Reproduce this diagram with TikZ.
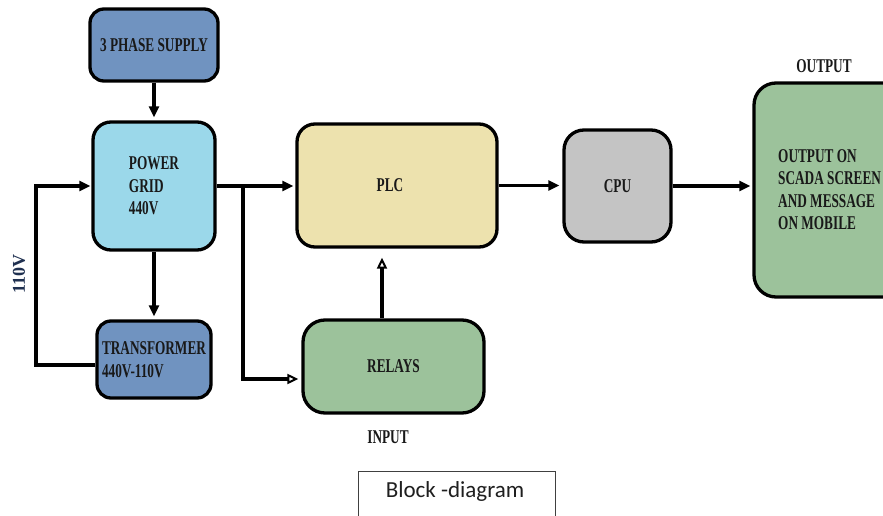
\documentclass[tikz,border=0pt]{standalone}
\usepackage{fontspec}
\setmainfont{Liberation Serif}
\newfontfamily\boxfont[FakeStretch=0.68]{Liberation Serif}
\newfontfamily\captionfont{Carlito}
\usetikzlibrary{arrows.meta}

\definecolor{steelbox}{HTML}{7093C0}
\definecolor{gridbox}{HTML}{9BD8EA}
\definecolor{plcbox}{HTML}{EDE2AE}
\definecolor{cpubox}{HTML}{C4C4C4}
\definecolor{greenbox}{HTML}{9CC29B}
\definecolor{navytext}{HTML}{1F3050}

\begin{document}
\begin{tikzpicture}[x=1pt,y=-1pt,
  blk/.style={draw=black, line width=3.3pt, inner sep=0pt, align=left,
    text=black!90, font=\boxfont\bfseries\fontsize{19.5}{22.5}\selectfont},
  lbl/.style={inner sep=0pt, text=black!90, font=\boxfont\bfseries\fontsize{19.5}{22.5}\selectfont},
  conn/.style={line width=3.2pt, -{Triangle[length=11pt,width=10pt]}},
  openconn/.style={line width=3.2pt, -{Triangle[length=11pt,width=10pt,fill=white,line width=2pt]}},
  wire/.style={line width=3.2pt}]

\useasboundingbox (0,0) rectangle (883,516);
\clip (0,0) rectangle (883,516);
\fill[white] (0,0) rectangle (883,516);

% blocks
\node[blk, fill=steelbox, rounded corners=14pt, minimum width=128pt, minimum height=72pt]
  (supply) at (154,45) {3 PHASE SUPPLY};
\node[blk, fill=gridbox, rounded corners=18pt, minimum width=122pt, minimum height=128pt]
  (grid) at (154,186) {POWER\\GRID\\440V};
\node[blk, fill=steelbox, rounded corners=14pt, minimum width=114pt, minimum height=77pt]
  (tr) at (154,359.5) {TRANSFORMER\\440V-110V};
\node[blk, fill=plcbox, rounded corners=18pt, minimum width=200pt, minimum height=123pt]
  (plc) at (397,185.5) {\hspace*{-14pt}PLC};
\node[blk, fill=greenbox, rounded corners=22pt, minimum width=181pt, minimum height=93pt]
  (relays) at (393.5,366.5) {RELAYS};
\node[blk, fill=cpubox, rounded corners=20pt, minimum width=107pt, minimum height=112pt]
  (cpu) at (617.5,186) {CPU};
\node[blk, fill=greenbox, rounded corners=22pt, minimum width=156pt, minimum height=214pt]
  (out) at (832,190) {};
\node[lbl, anchor=west, align=left] (outtxt) at (778,189.5)
  {OUTPUT ON\\SCADA SCREEN\\AND MESSAGE\\ON MOBILE};

% labels
\node[lbl] (outlbl) at (824,66.5) {OUTPUT};
\node[lbl] (inlbl) at (388,437) {INPUT};
\node[rotate=90, inner sep=0pt, text=navytext,
  font=\bfseries\fontsize{18}{20}\selectfont] (v110) at (19,274) {110V};

% connectors
\draw[conn, shorten >=3pt] (supply) -- (grid);
\draw[conn, shorten >=3pt] (grid) -- (tr);
\draw[conn, shorten >=2pt] (grid.east) -- (grid.east -| plc.west);
\coordinate (br) at (243,186);
\draw[openconn, shorten >=3pt] (br) |- ([yshift=-12.5pt]relays.west);
\draw[openconn, shorten >=9pt] ([xshift=-11.5pt]relays.north)
  -- ([xshift=-11.5pt]relays.north |- plc.south);
\draw[conn, shorten >=3pt] (plc.east) -- (plc.east -| cpu.west);
\draw[conn, shorten >=2pt] (cpu.east) -- (cpu.east -| out.west);

% feedback loop from the transformer back to the grid
\coordinate (fbl) at (36,365);
\coordinate (fbt) at (36,186);
\draw[wire] ([yshift=-5.5pt]tr.west) -- (fbl) -- (fbt);
\draw[conn, shorten >=1pt] ([xshift=-1.6pt]fbt) -- (grid.west);

% caption
\node[draw=black!75, line width=1.2pt, minimum width=197pt, minimum height=60pt,
  anchor=north west, inner sep=0pt] (capbox) at (358,471) {};
\node[inner sep=0pt, text=black!88, font=\captionfont\fontsize{23}{26}\selectfont]
  (caption) at (455,491) {Block -diagram};
\end{tikzpicture}
\end{document}
